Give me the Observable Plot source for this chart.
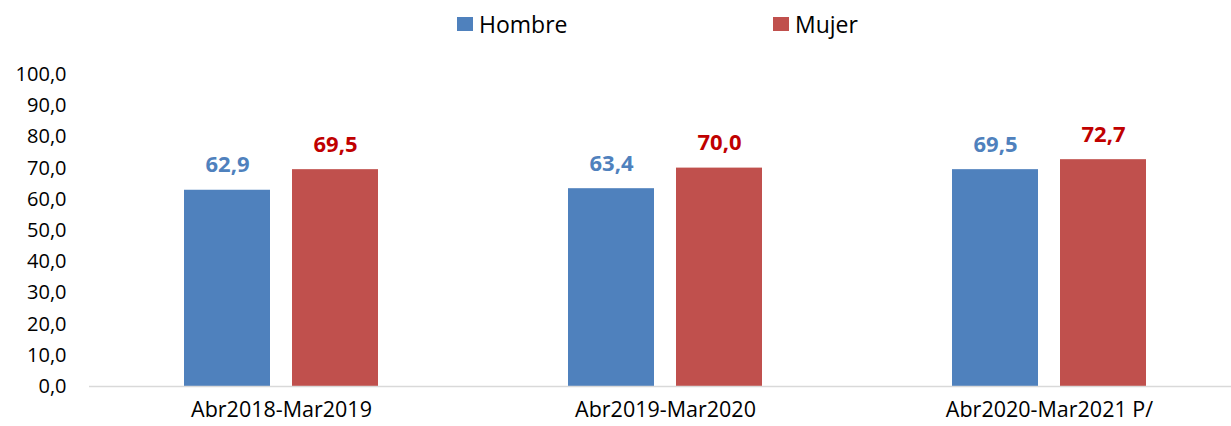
<!DOCTYPE html>
<html>
<head>
<meta charset="utf-8">
<script src="https://cdn.jsdelivr.net/npm/d3@7"></script>
<script src="https://cdn.jsdelivr.net/npm/@observablehq/plot@0.6"></script>
<style>
  html, body { margin: 0; padding: 0; background: #fff; }
  body { width: 1231px; height: 426px; overflow: hidden; font-family: "Open Sans", sans-serif; }
  #legend { position: relative; height: 50px; font-size: 23px; color: #000; }
  .item { position: absolute; top: 8px; display: flex; align-items: center; }
  .sw { width: 16px; height: 14px; margin-right: 6px; }
  #chart svg { display: block; overflow: hidden; }
</style>
</head>
<body>
<div id="legend"></div>
<div id="chart"></div>
<script>
const periods = ["Abr2018-Mar2019", "Abr2019-Mar2020", "Abr2020-Mar2021 P/"];
const series = ["Hombre", "Mujer"];
const hombre = [62.9, 63.4, 69.5];
const mujer = [69.5, 70.0, 72.7];
const yTicks = [0, 10, 20, 30, 40, 50, 60, 70, 80, 90, 100];

const barColors = {Hombre: "#4F81BD", Mujer: "#C0504D"};
const labelColors = {Hombre: "#4F81BD", Mujer: "#C00000"};

const data = [];
periods.forEach((p, i) => {
  data.push({periodo: p, sexo: "Hombre", valor: hombre[i]});
  data.push({periodo: p, sexo: "Mujer", valor: mujer[i]});
});

const fmt = d => d.toFixed(1).replace(".", ",");

// legend
const legend = document.getElementById("legend");
const legendLeft = {Hombre: 457, Mujer: 773};
series.forEach(s => {
  const it = document.createElement("div");
  it.className = "item";
  it.style.left = legendLeft[s] + "px";
  const sw = document.createElement("span");
  sw.className = "sw";
  sw.style.background = barColors[s];
  const tx = document.createElement("span");
  tx.textContent = s;
  it.appendChild(sw);
  it.appendChild(tx);
  legend.appendChild(it);
});

const chart = Plot.plot({
  width: 1231,
  height: 376,
  marginTop: 24,
  marginBottom: 40,
  marginLeft: 88,
  marginRight: -10,
  style: {fontFamily: "Open Sans, sans-serif", fontSize: "19px", color: "#000", background: "#fff"},
  fx: {domain: periods, padding: 0, label: null},
  x: {domain: series, paddingInner: 0.2018, paddingOuter: 0.8647, axis: null},
  y: {domain: [0, 100], label: null},
  color: {domain: series, range: series.map(s => barColors[s])},
  marks: [
    Plot.axisY(yTicks, {tickFormat: fmt, tickSize: 0, tickPadding: 23, fontSize: 20, label: null, fill: "#000"}),
    Plot.axisFx({anchor: "bottom", tickSize: 0, tickPadding: 15, fontSize: 21.5, label: null, fill: "#000"}),
    Plot.barY(data, {fx: "periodo", x: "sexo", y: "valor", fill: "sexo"}),
    Plot.ruleY([0], {stroke: "#D9D9D9", strokeWidth: 1.5}),
    Plot.text(data, {
      fx: "periodo", x: "sexo", y: "valor",
      text: d => fmt(d.valor),
      fill: d => labelColors[d.sexo],
      lineAnchor: "bottom", dy: -18,
      fontWeight: "bold", fontSize: 22
    })
  ]
});
document.getElementById("chart").appendChild(chart);
</script>
</body>
</html>
